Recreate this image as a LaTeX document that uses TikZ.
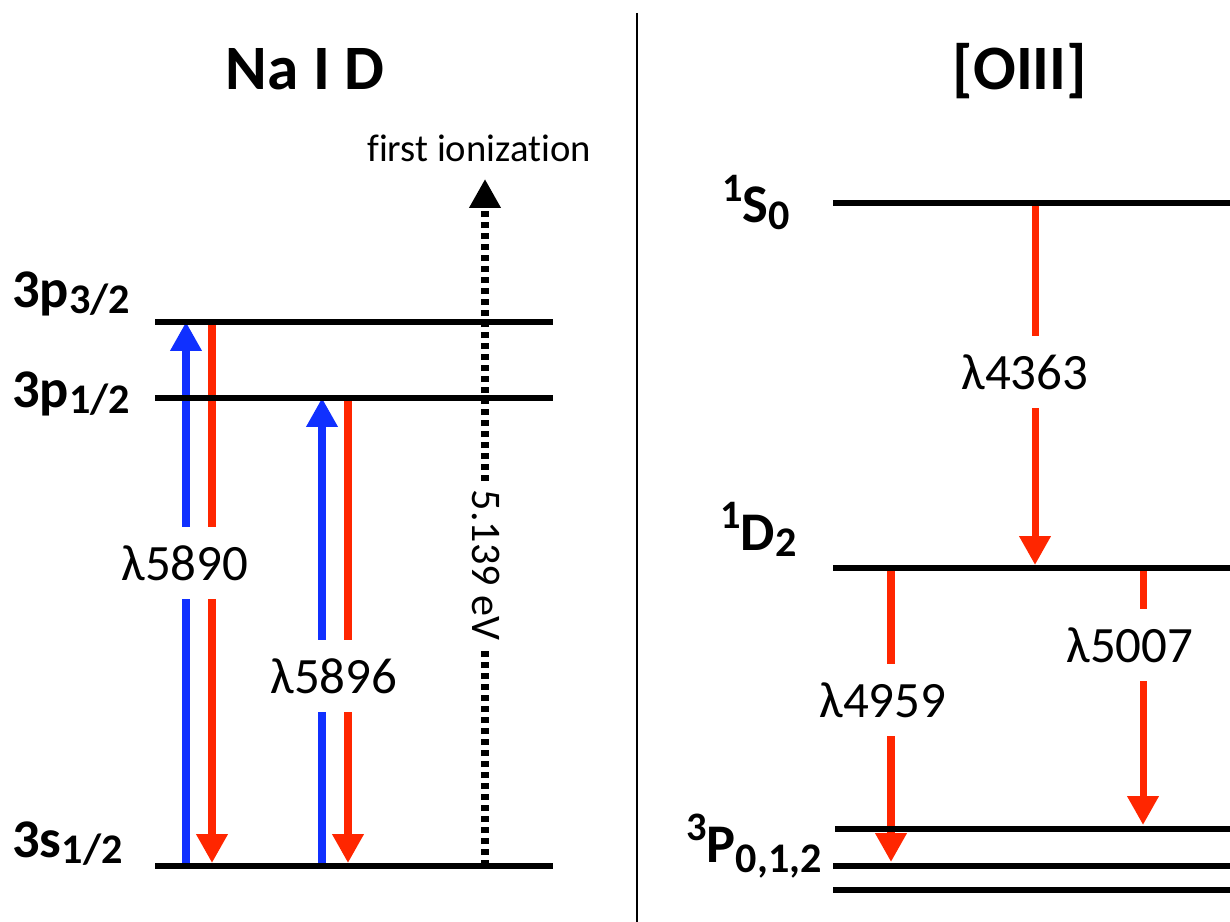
\documentclass[tikz,border=0pt]{standalone}
\usepackage{fontspec}
\setmainfont{Carlito}[Ligatures=NoCommon]
\usetikzlibrary{arrows.meta}
\definecolor{upblue}{RGB}{16,48,255}
\definecolor{downred}{RGB}{255,38,0}
\newcommand{\term}[4][-0.12em]{\raisebox{0.4em}{\fontsize{23}{23}\selectfont#2}#3\raisebox{#1}{\fontsize{24}{24}\selectfont#4}}

\begin{document}
\begin{tikzpicture}[x=0.02cm,y=-0.02cm,
  level/.style={line width=3.4pt},
  trans/.style={line width=4pt,-{Triangle[width=0.6cm,length=0.58cm]}},
  wl/.style={fill=white,inner xsep=1pt,minimum height=1.44cm,font=\fontsize{29}{29}\selectfont},
  lab/.style={inner sep=0pt,font=\fontsize{31}{31}\selectfont\bfseries},
  title/.style={anchor=base,font=\fontsize{36}{36}\selectfont\bfseries}]
\useasboundingbox (0,0) rectangle (1230,922);
\draw[line width=0.8pt] (637,13)--(637,922);
\node[title] (tna) at (305,90) {Na I D};
\node[title] (toiii) at (1020,90) {[OIII]};
% levels and transition columns
\foreach \name/\x/\y in {p32/155/322,p12/155/398,s12/155/866,S0/833/203,D2/833/568,P2/835/829,P1/833/866,P0/833/890}
  \coordinate (\name) at (\x,\y);
\foreach \name/\x in {b1/186,r1/212,b2/322,r2/348,r3/1035,r4/891,r5/1143}
  \coordinate (\name) at (\x,0);
\coordinate (ion) at (485,179);
\draw[trans,upblue] (b1|-s12)--(b1|-p32);
\draw[trans,downred] (r1|-p32)--([yshift=0.06cm]r1|-s12);
\draw[trans,upblue] (b2|-s12)--(b2|-p12);
\draw[trans,downred] (r2|-p12)--([yshift=0.06cm]r2|-s12);
\draw[trans,dash pattern=on 0.12cm off 0.1cm] (ion|-s12)--(ion);
\draw[trans,downred] (r3|-S0)--([yshift=0.06cm]r3|-D2);
\draw[trans,downred] (r4|-D2)--([yshift=0.08cm]r4|-P1);
\draw[trans,downred] (r5|-D2)--([yshift=0.08cm]r5|-P2);
\foreach \name in {p32,p12,s12} \draw[level] (\name)--+(398,0);
\foreach \name in {S0,D2,P2,P1,P0} \draw[level] (\name)--(\name-|1230,0);
% labels
\node[wl] (l5890) at (185,563) {λ5890};
\node[wl] (l5896) at (334,676) {λ5896};
\node[wl] (l4363) at (1025,372) {λ4363};
\node[wl] (l4959) at (883,700) {λ4959};
\node[wl] (l5007) at (1130,645) {λ5007};
\node[fill=white,rotate=-90,inner xsep=0.15cm,inner ysep=2pt,font=\fontsize{24}{24}\selectfont] (ev) at (486,565) {5.139 eV};
\node[anchor=base,font=\fontsize{22}{22}\selectfont] (fi) at (479,162) {first ionizat\kern0pt ion};
\node[lab,anchor=base west] (n-p32) at (12,307) {\term{}{3p}{3/2}};
\node[lab,anchor=base west] (n-p12) at (12,407) {\term{}{3p}{1/2}};
\node[lab,anchor=base west] (n-s12) at (12,857) {\term{}{3s}{1/2}};
\node[lab,anchor=base east] (n-S0) at (790,223) {\term{1}{S}{0}};
\node[lab,anchor=base east] (n-D2) at (797,550) {\term{1}{D}{2}};
\node[lab,anchor=base east] (n-P) at (822,862) {\term[-0.2em]{3}{P}{0,1,2}};
\end{tikzpicture}
\end{document}
